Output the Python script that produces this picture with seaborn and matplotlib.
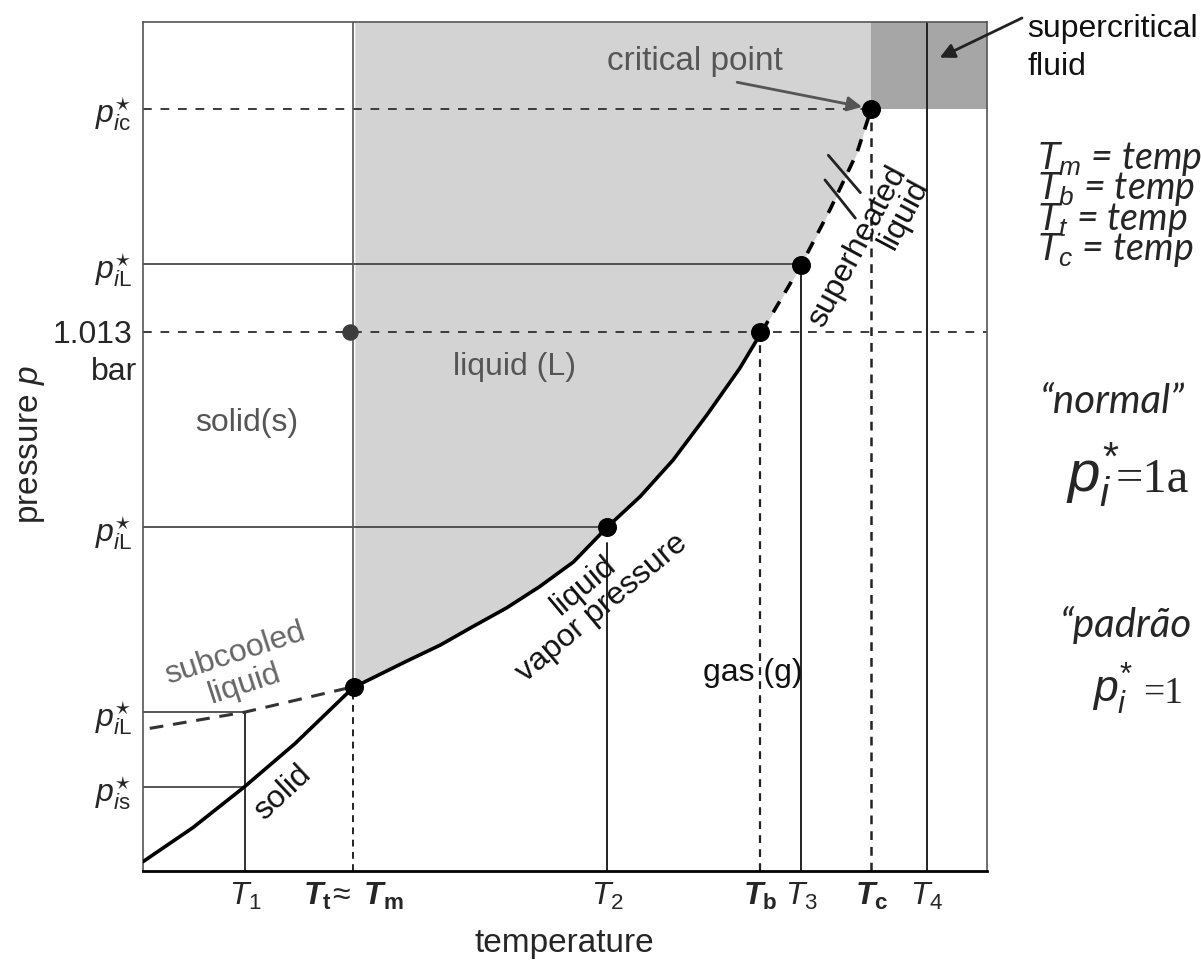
import matplotlib
matplotlib.use("Agg")
import matplotlib.pyplot as plt
import seaborn as sns

# ---------------- data (arbitrary units) ----------------
# characteristic temperatures (x axis 0..100)
T_names = ["T1", "Tm", "T2", "Tb", "T3", "Tc", "T4"]
T_vals = [12.1, 24.9, 55.0, 73.1, 78.0, 86.3, 92.9]
T_labels = [r"$T_1$",
            r"$\mathbfit{T}_{\mathbf{t}}\!\approx\ \mathbfit{T}_{\mathbf{m}}$",
            r"$T_2$", r"$\mathbfit{T}_{\mathbf{b}}$", r"$T_3$",
            r"$\mathbfit{T}_{\mathbf{c}}$", r"$T_4$"]

# characteristic pressures (y axis 0..100)
p_vals = [9.9, 18.7, 40.5, 63.5, 71.5, 89.8]
p_labels = [r"$p^{\star}_{i\mathrm{s}}$", r"$p^{\star}_{i\mathrm{L}}$",
            r"$p^{\star}_{i\mathrm{L}}$", "1.013", r"$p^{\star}_{i\mathrm{L}}$",
            r"$p^{\star}_{i\mathrm{c}}$"]

# solid vapour pressure (sublimation) curve
sub_T = [0.0, 5.9, 12.0, 18.0, 25.0]
sub_p = [1.1, 5.1, 9.9, 15.0, 21.7]

# subcooled liquid (dashed)
subc_T = [0.8, 12.0, 24.9]
subc_p = [16.8, 18.7, 21.7]

# liquid vapour pressure curve (solid part)
liq_T = [25.1, 31.2, 35.2, 39.1, 43.1, 47.0, 51.0, 55.0, 58.9, 62.8, 66.8, 70.7, 73.3]
liq_p = [21.7, 24.7, 26.6, 28.8, 31.0, 33.5, 36.4, 40.5, 44.1, 48.4, 53.7, 59.2, 63.5]

# superheated liquid (dashed) up to the critical point
sup_T = [73.3, 78.0, 81.4, 84.6, 86.3]
sup_p = [63.5, 71.4, 77.9, 84.6, 89.8]

# marked points
pt_T = [25.0, 55.0, 73.1, 78.0, 86.3]
pt_p = [21.7, 40.5, 63.5, 71.4, 89.8]
gray_pt_T = [24.5]
gray_pt_p = [63.5]

# ---------------- style ----------------
sns.set_theme(style="white")
plt.rcParams["font.family"] = ["Liberation Sans", "DejaVu Sans"]
plt.rcParams["mathtext.fontset"] = "custom"
plt.rcParams["mathtext.rm"] = "Liberation Sans"
plt.rcParams["mathtext.it"] = "Liberation Sans:italic"
plt.rcParams["mathtext.bf"] = "Liberation Sans:bold"
plt.rcParams["mathtext.bfit"] = "Liberation Sans:bold:italic"

W, H = 1201, 971
fig = plt.figure(figsize=(W / 100, H / 100), dpi=100)
fig.patch.set_facecolor("white")
ax = fig.add_axes([143 / W, (H - 871) / H, (987 - 143) / W, (871 - 22) / H])
ax.set_facecolor("white")
ax.set_xlim(0, 100)
ax.set_ylim(0, 100)

FS = 23
LIGHT = "#d3d3d3"
DARK = "#a6a6a6"
THIN = "#3a3a3a"

# ---------------- shaded regions ----------------
curve_T = liq_T + sup_T[1:]
curve_p = liq_p + sup_p[1:]
ax.fill_between(curve_T, curve_p, 100, color=LIGHT, lw=0, zorder=0)
ax.fill_between([T_vals[5], 100], p_vals[5], 100, color=DARK, lw=0, zorder=0)

# ---------------- reference lines ----------------
dash_h = (0, (4.5, 4.5))
# horizontal
ax.plot([0, T_vals[5]], [p_vals[5]] * 2, color=THIN, lw=1.4, ls=dash_h, zorder=1)   # p_ic
ax.plot([0, T_vals[4]], [p_vals[4]] * 2, color=THIN, lw=1.2, zorder=1)              # p_iL upper
ax.plot([0, 100], [p_vals[3]] * 2, color=THIN, lw=1.4, ls=dash_h, zorder=1)         # 1.013 bar
ax.plot([0, T_vals[2]], [p_vals[2]] * 2, color=THIN, lw=1.2, zorder=1)              # p_iL middle
ax.plot([0, T_vals[0]], [p_vals[1]] * 2, color=THIN, lw=1.2, zorder=1)              # p_iL lower
ax.plot([0, T_vals[0]], [p_vals[0]] * 2, color=THIN, lw=1.2, zorder=1)              # p_is
# vertical
dash_v = (0, (3.5, 2.8))
ax.plot([T_vals[0]] * 2, [0, p_vals[1]], color="#222", lw=1.3, zorder=1)            # T1
ax.plot([T_vals[1]] * 2, [pt_p[0], 100], color="#555", lw=1.2, zorder=1)            # Tm upper
ax.plot([T_vals[1]] * 2, [0, pt_p[0]], color="#222", lw=1.4, ls=dash_v, zorder=1)   # Tm lower
ax.plot([T_vals[2]] * 2, [0, 38.6], color="#222", lw=1.4, zorder=1)                 # T2
ax.plot([T_vals[3]] * 2, [0, pt_p[2]], color="#222", lw=1.6, ls=dash_v, zorder=1)   # Tb
ax.plot([T_vals[4]] * 2, [0, pt_p[3]], color="#222", lw=1.4, zorder=1)              # T3
ax.plot([T_vals[5]] * 2, [0, pt_p[4]], color="#222", lw=1.8, ls=dash_v, zorder=1)   # Tc
ax.plot([T_vals[6]] * 2, [0, 100], color="#222", lw=1.4, zorder=1)                  # T4

# ---------------- phase curves (seaborn) ----------------
sns.lineplot(x=sub_T, y=sub_p, ax=ax, color="black", lw=2.6, sort=False,
             estimator=None, zorder=3)
sns.lineplot(x=liq_T, y=liq_p, ax=ax, color="black", lw=2.6, sort=False,
             estimator=None, zorder=3)
sns.lineplot(x=subc_T, y=subc_p, ax=ax, color="#333", lw=2.2, sort=False,
             estimator=None, linestyle=(0, (4.5, 3.2)), zorder=3)
sns.lineplot(x=sup_T, y=sup_p, ax=ax, color="black", lw=2.6, sort=False,
             estimator=None, linestyle=(0, (3.5, 2.8)), zorder=3)

# break marks across the superheated branch
ax.plot([81.2, 85.0], [84.3, 79.9], color="#222", lw=2.0, zorder=3)
ax.plot([80.8, 84.4], [81.4, 76.9], color="#222", lw=2.0, zorder=3)

# ---------------- points ----------------
sns.scatterplot(x=pt_T, y=pt_p, ax=ax, s=160, color="black", edgecolor="black",
                zorder=5)
sns.scatterplot(x=gray_pt_T, y=gray_pt_p, ax=ax, s=120, color="#3c3c3c",
                edgecolor="#3c3c3c", zorder=5)

# ---------------- axes decoration ----------------
ax.set_xticks(T_vals)
ax.set_xticklabels(T_labels, fontsize=FS)
ax.set_yticks(p_vals)
ax.set_yticklabels(p_labels, fontsize=FS)
ax.tick_params(axis="x", length=0, pad=7)
ax.tick_params(axis="y", length=0, pad=8)
ax.annotate("bar", xy=(0, p_vals[3]), xytext=(-6, -40), textcoords="offset pixels",
            ha="right", va="center", fontsize=FS, annotation_clip=False)

ax.set_xlabel("temperature", fontsize=FS + 1)
ax.xaxis.set_label_coords((564 - 143) / 844, (871 - 943) / 849)
ax.xaxis.label.set_va("center")
ax.set_ylabel(r"pressure $p$", fontsize=FS + 1)
ax.yaxis.set_label_coords((32 - 143) / 844, (871 - 445) / 849)
ax.yaxis.label.set_va("center")

for side in ["top", "right", "left"]:
    ax.spines[side].set_color("#555")
    ax.spines[side].set_linewidth(1.2)
ax.spines["bottom"].set_color("black")
ax.spines["bottom"].set_linewidth(2.0)

# ---------------- region labels ----------------
ax.text(12.3, 52.8, "solid(s)", fontsize=FS, color="#555", ha="center", va="center")
ax.text(44.0, 59.4, "liquid (L)", fontsize=FS, color="#555", ha="center", va="center")
ax.text(75.8, 95.3, "critical point", fontsize=FS + 1, color="#555", ha="right",
        va="center")
ax.text(72.2, 23.3, "gas (g)", fontsize=FS, color="#111", ha="center", va="center")
ax.text(53.3, 32.3, "liquid\nvapor pressure", fontsize=FS, color="#111", ha="center",
        va="center", rotation=40, linespacing=0.95, rotation_mode="anchor")
ax.text(11.5, 23.8, "subcooled\nliquid", fontsize=FS, color="#666", ha="center",
        va="center", rotation=18, linespacing=1.05, rotation_mode="anchor")
ax.text(16.6, 9.2, "solid", fontsize=FS, color="#111", ha="center", va="center",
        rotation=43, rotation_mode="anchor")
ax.text(86.0, 72.8, "superheated\nliquid", fontsize=FS, color="#111", ha="center",
        va="center", multialignment="right", rotation=62, linespacing=0.82,
        rotation_mode="anchor")

ax.annotate("", xy=(85.2, 90.0), xytext=(70.4, 92.9),
            arrowprops=dict(arrowstyle="-|>", color="#555", lw=2.0,
                            mutation_scale=22, shrinkA=0, shrinkB=0))
ax.annotate("", xy=(94.4, 95.8), xytext=(1022, H - 18), textcoords="figure pixels",
            arrowprops=dict(arrowstyle="-|>", color="#222", lw=2.0,
                            mutation_scale=22, shrinkA=0, shrinkB=0),
            annotation_clip=False)

# ---------------- text on the right ----------------
def fx(px):
    return px / W


def fy(py):
    return 1 - py / H


fig.text(fx(1027), fy(37), "supercritical", fontsize=FS, color="#111",
         ha="left", va="baseline")
fig.text(fx(1027), fy(75), "fluid", fontsize=FS, color="#111", ha="left", va="baseline")

RF = ["Lato", "DejaVu Sans"]
defs = "$T_m$ = temp\n$T_b$ = temp\n$T_t$ = temp\n$T_c$ = temp"
fig.text(fx(1036), fy(140), defs, fontsize=27, family=RF, style="italic",
         ha="left", va="top", linespacing=0.74)

fig.text(fx(1040), fy(413), "“normal”", fontsize=29, family=RF, style="italic",
         ha="left", va="baseline")
fig.text(fx(1066), fy(492), r"$p^{*}_{i}$", fontsize=42, ha="left", va="baseline")
fig.text(fx(1116), fy(492), "=1a", fontsize=35, family="Liberation Serif",
         ha="left", va="baseline")

fig.text(fx(1060), fy(637), "“padrão", fontsize=29, family=RF, style="italic",
         ha="left", va="baseline")
fig.text(fx(1092), fy(703), r"$p^{*}_{i}$", fontsize=32, ha="left", va="baseline")
fig.text(fx(1143), fy(703), "=1", fontsize=27, family="Liberation Serif",
         ha="left", va="baseline")

fig.savefig("out.png", dpi=100, facecolor="white")
